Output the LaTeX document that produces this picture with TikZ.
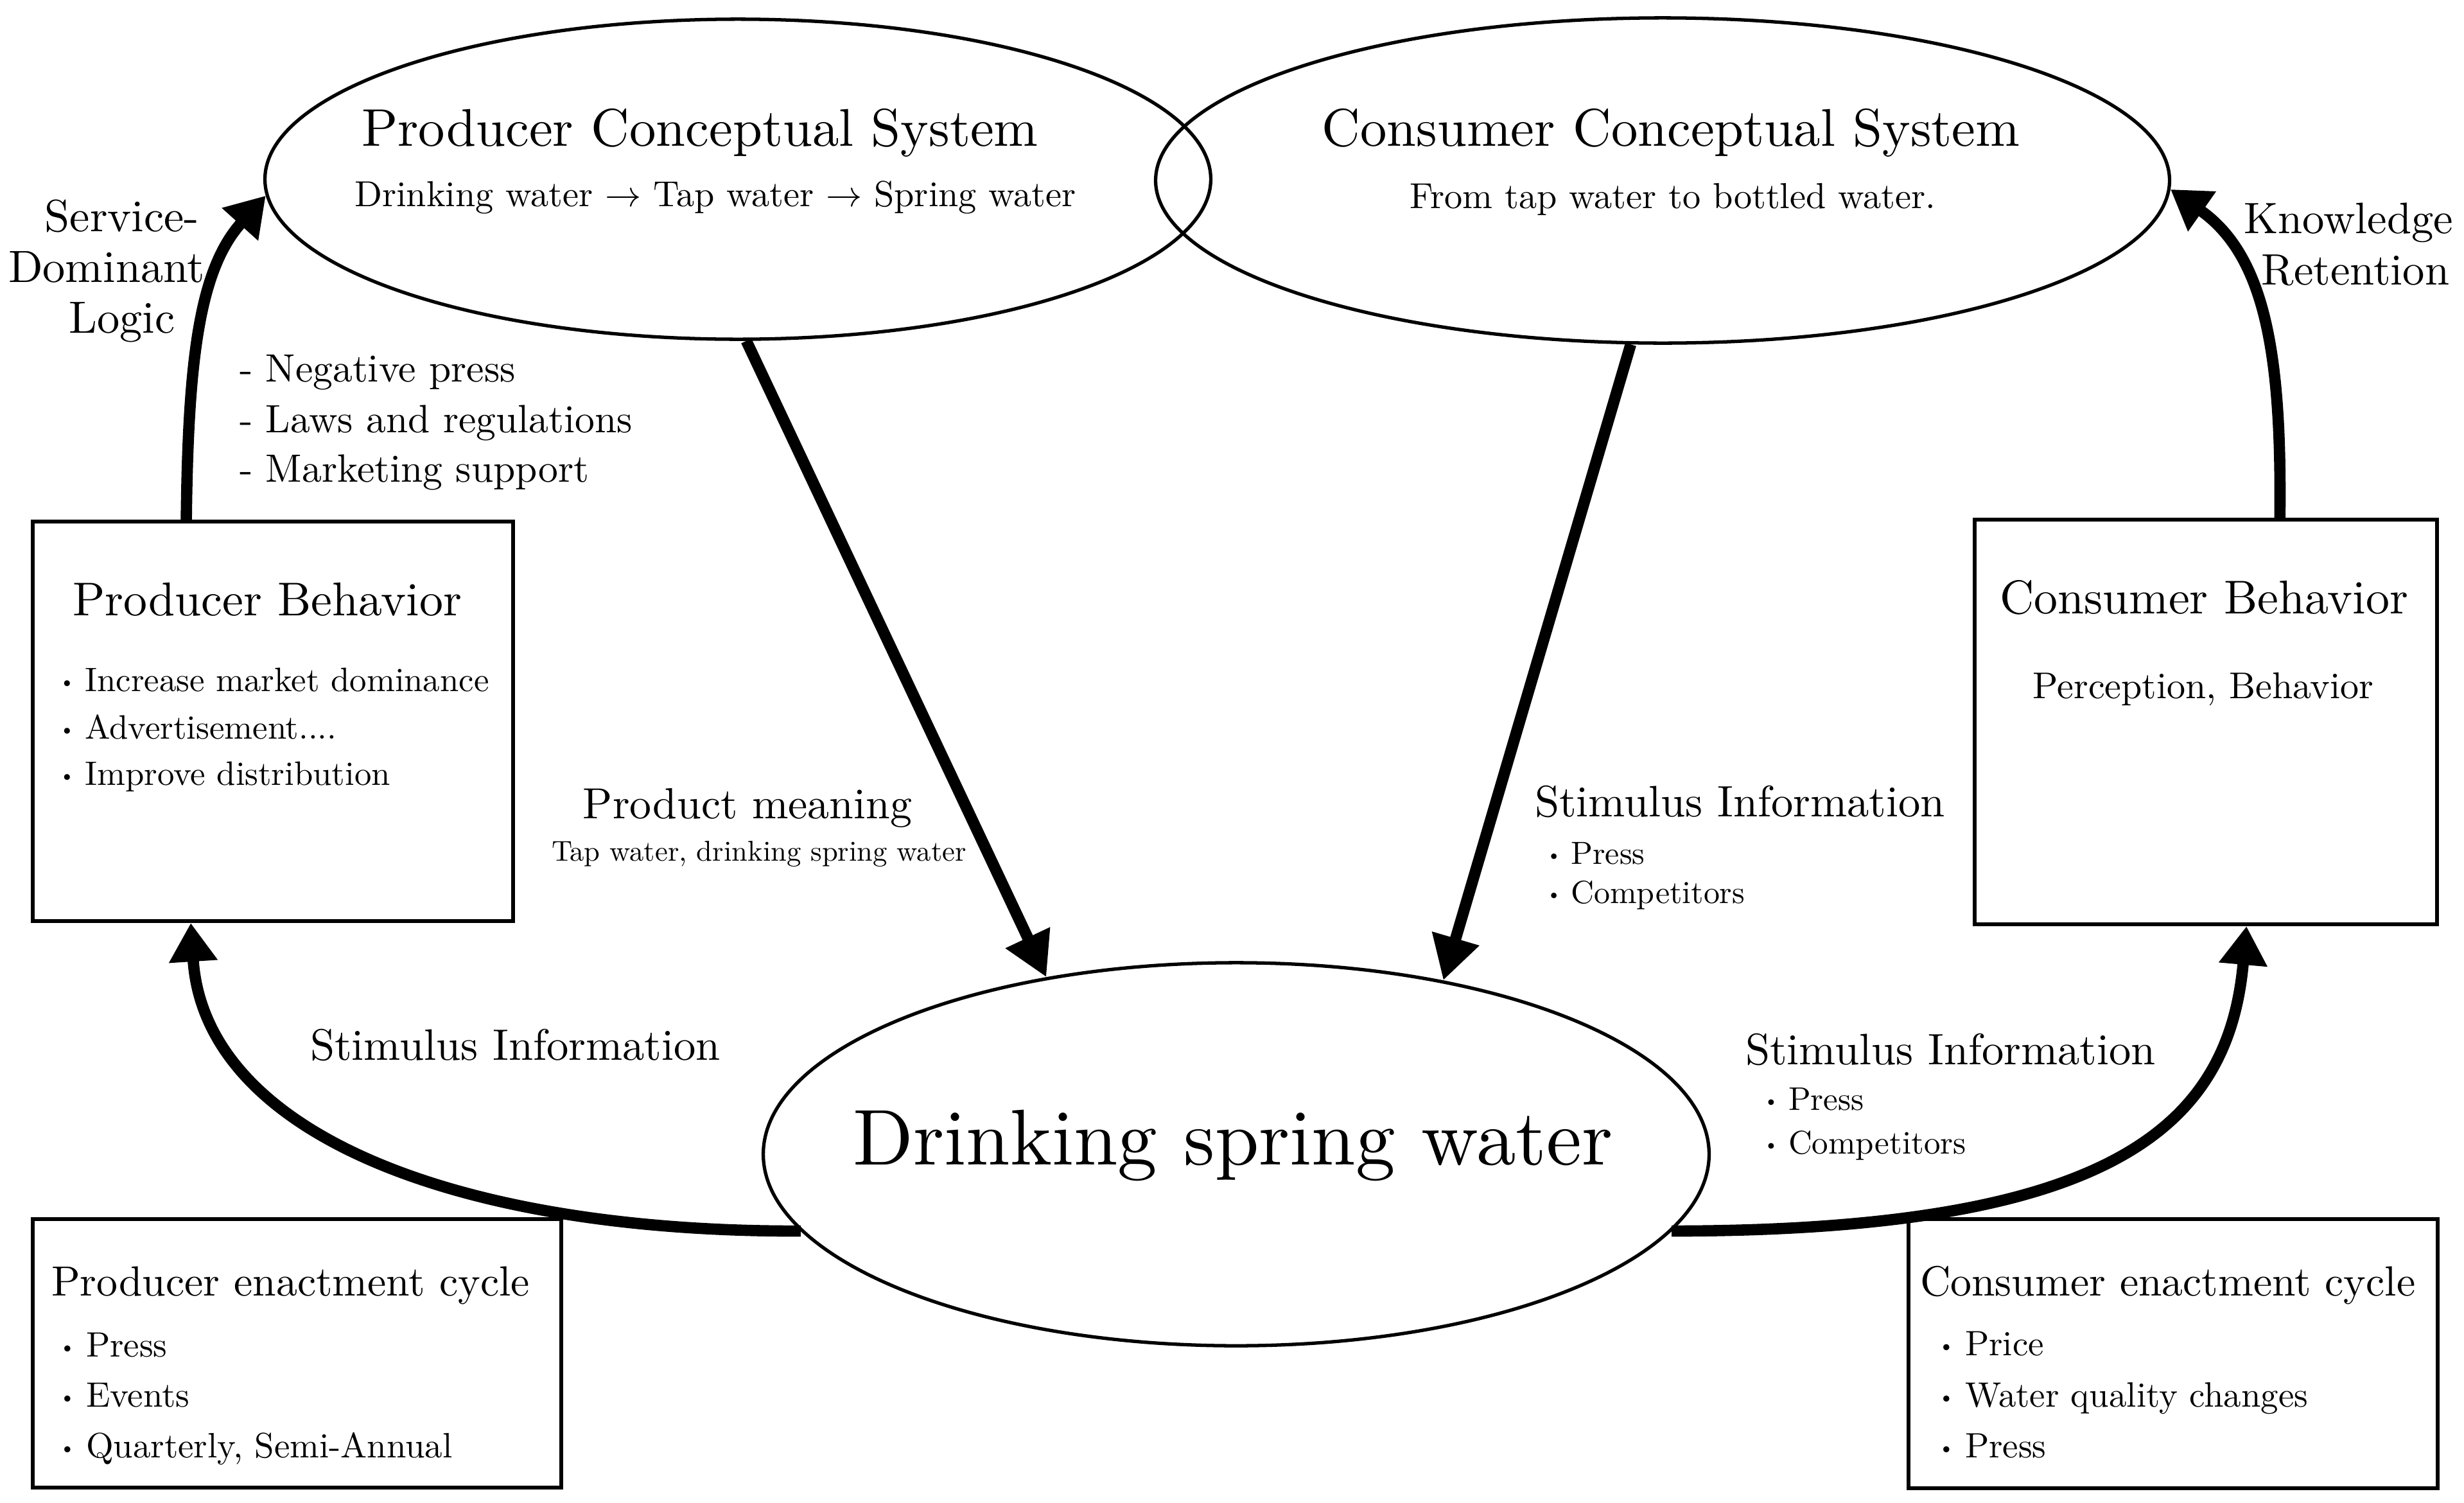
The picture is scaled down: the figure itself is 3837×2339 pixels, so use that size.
\documentclass[tikz,border=0pt]{standalone}
\usepackage{graphicx}
\usetikzlibrary{arrows.meta,shapes.geometric}
\newcommand{\bu}{\raisebox{.2ex}{\scalebox{.6}{\textbullet}}\hspace{.3em}}
\newcommand{\sz}[2]{\scalebox{#1}{\fontsize{10}{12}\selectfont #2}}
\tikzset{
  txt/.style={inner sep=0pt, outer sep=0pt},
  ell/.style={draw, ellipse, line width=1.5pt, inner sep=0pt},
  box/.style={draw, rectangle, line width=1.6pt, inner sep=0pt},
  arr/.style={line width=5pt, -{Triangle[length=0.68cm,width=0.72cm]}},
  carr/.style={line width=5pt, -{Triangle[length=0.6cm,width=0.72cm]}},
}
\begin{document}
\begin{tikzpicture}[x=0.01cm,y=-0.01cm]
\fill[white] (0,0) rectangle (3837,2339);
\useasboundingbox (0,0) rectangle (3837,2339);

% ellipses
\node[ell, minimum width=14.72cm, minimum height=4.98cm] (pce) at (1149,279) {};
\node[ell, minimum width=15.78cm, minimum height=5.06cm] (cce) at (2589,281) {};
\node[ell, minimum width=14.72cm, minimum height=5.96cm] (dsw) at (1925,1797) {};

% boxes
\node[box, minimum width=7.48cm, minimum height=6.22cm] (pb) at (425,1123) {};
\node[box, minimum width=7.2cm, minimum height=6.3cm] (cb) at (3435,1124) {};
\node[box, minimum width=8.23cm, minimum height=4.18cm] (pe) at (462.5,2107) {};
\node[box, minimum width=8.24cm, minimum height=4.19cm] (ce) at (3384,2107.5) {};

% ellipse texts
\node[txt, anchor=base] (pcet) at (1090,227) {\sz{2.35}{Producer Conceptual System}};
\node[txt, anchor=base] (pces) at (1114,321) {\sz{1.6}{Drinking water $\rightarrow$ Tap water $\rightarrow$ Spring water}};
\node[txt, anchor=base] (ccet) at (2602,227) {\sz{2.35}{Consumer Conceptual System}};
\node[txt, anchor=base] (cces) at (2605,324) {\sz{1.6}{From tap water to bottled water.}};
\node[txt, anchor=base] (dswt) at (1920,1813) {\sz{3.5}{Drinking spring water}};

% producer behavior
\node[txt, anchor=base] (pbt) at (416,958) {\sz{2.1}{Producer Behavior}};
\node[txt, anchor=base west] (pb1) at (92,1076) {\sz{1.5}{\bu Increase market dominance}};
\node[txt, anchor=base west] (pb2) at (92,1150) {\sz{1.5}{\bu Advertisement....}};
\node[txt, anchor=base west] (pb3) at (92,1222) {\sz{1.5}{\bu Improve distribution}};

% consumer behavior
\node[txt, anchor=base] (cbt) at (3432,955) {\sz{2.1}{Consumer Behavior}};
\node[txt, anchor=base] (cb1) at (3431,1087) {\sz{1.65}{Perception, Behavior}};

% producer enactment
\node[txt, anchor=base west] (pet) at (80,2017) {\sz{1.87}{Producer enactment cycle}};
\node[txt, anchor=base west] (pe1) at (92,2112) {\sz{1.56}{\bu Press}};
\node[txt, anchor=base west] (pe2) at (92,2190) {\sz{1.56}{\bu Events}};
\node[txt, anchor=base west] (pe3) at (92,2269) {\sz{1.56}{\bu Quarterly, Semi-Annual}};

% consumer enactment
\node[txt, anchor=base west] (cet) at (2990,2017) {\sz{1.87}{Consumer enactment cycle}};
\node[txt, anchor=base west] (ce1) at (3018,2110) {\sz{1.56}{\bu Price}};
\node[txt, anchor=base west] (ce2) at (3018,2190) {\sz{1.56}{\bu Water quality changes}};
\node[txt, anchor=base west] (ce3) at (3018,2269) {\sz{1.56}{\bu Press}};

% side labels
\node[txt, anchor=base] (sd1) at (190,360) {\sz{2.0}{Service-}};
\node[txt, anchor=base] (sd2) at (166,439) {\sz{2.0}{Dominant}};
\node[txt, anchor=base] (sd3) at (190,518) {\sz{2.0}{Logic}};
\node[txt, anchor=base] (kr1) at (3657,363) {\sz{1.95}{Knowledge}};
\node[txt, anchor=base] (kr2) at (3668,443) {\sz{1.95}{Retention}};

\node[txt, anchor=base west] (ng1) at (373,594) {\sz{1.75}{- Negative press}};
\node[txt, anchor=base west] (ng2) at (373,673) {\sz{1.75}{- Laws and regulations}};
\node[txt, anchor=base west] (ng3) at (373,750) {\sz{1.75}{- Marketing support}};

\node[txt, anchor=base] (pm1) at (1164,1274) {\sz{1.93}{Product meaning}};
\node[txt, anchor=base] (pm2) at (1182,1340) {\sz{1.27}{Tap water, drinking spring water}};

\node[txt, anchor=base west] (sm0) at (2390,1271) {\sz{1.95}{Stimulus Information}};
\node[txt, anchor=base west] (sm1) at (2408,1345) {\sz{1.42}{\bu Press}};
\node[txt, anchor=base west] (sm2) at (2408,1406) {\sz{1.42}{\bu Competitors}};

\node[txt, anchor=base west] (sl0) at (483,1650) {\sz{1.95}{Stimulus Information}};

\node[txt, anchor=base west] (sr0) at (2718,1657) {\sz{1.95}{Stimulus Information}};
\node[txt, anchor=base west] (sr1) at (2746,1728) {\sz{1.45}{\bu Press}};
\node[txt, anchor=base west] (sr2) at (2746,1796) {\sz{1.45}{\bu Competitors}};

% arrows
\draw[carr] ([xshift=2.42cm]pb.north west) .. controls (293,560) and (310,420) .. (pce.182);
\draw[carr] ([xshift=4.78cm]cb.north west) .. controls (3553,560) and (3530,400) .. (cce.-1);
\draw[arr] (pce.-87) -- (dsw.137.5);
\draw[arr] (cce.-101) -- (dsw.40);
\draw[carr] (dsw.190) .. controls (700,1918) and (318,1760) .. ([xshift=2.49cm]pb.south west);
\draw[carr] (dsw.-10) .. controls (3280,1916) and (3470,1760) .. ([xshift=4.26cm]cb.south west);
\end{tikzpicture}
\end{document}
